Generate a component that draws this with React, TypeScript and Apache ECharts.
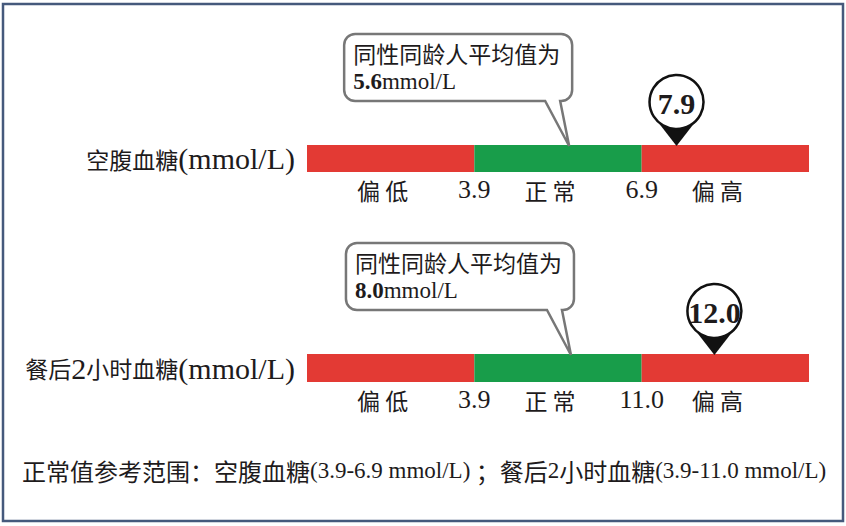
import React, { useEffect, useRef } from "react";
import * as echarts from "echarts";

// ---- data ----
const rowLabels = ["空腹血糖", "餐后2小时血糖"];
const unitText = "(mmol/L)";
const zoneNames = ["偏 低", "正 常", "偏 高"];
const zoneWidths = [1, 1, 1];
// display range of each zone (low start, normal start, high start, high end)
const fastingBounds = [0, 3.9, 6.9, 11.7];
const postBounds = [0, 3.9, 11.0, 13.3];
const fastingTicks = ["3.9", "6.9"];
const postTicks = ["3.9", "11.0"];
const yourValues = [7.9, 12.0];
const peerAverages = [5.6, 8.0];
const calloutTitle = "同性同龄人平均值为";
const footPrefix = "正常值参考范围：";

const boundsList = [fastingBounds, postBounds];
const ticksList = [fastingTicks, postTicks];

const RED = "#e33a34";
const GREEN = "#189d4a";
const zoneColors = [RED, GREEN, RED];
const INK = "#1e1b1c";
const CJK = '"Noto Sans CJK SC", "Noto Sans", sans-serif';
const SERIF = '"Liberation Serif", "Times New Roman", serif';

function toZone(v: number, b: number[]) {
  for (let i = 0; i < b.length - 1; i++) {
    if (v <= b[i + 1] || i === b.length - 2) {
      return i + (v - b[i]) / (b[i + 1] - b[i]);
    }
  }
  return 0;
}

function splitDigits(s: string, cjkKey: string, numKey: string) {
  return s
    .split(/(\d+)/)
    .filter((t) => t.length > 0)
    .map((t) => (/^\d+$/.test(t) ? `{${numKey}|${t}}` : `{${cjkKey}|${t}}`))
    .join("");
}

export default function App() {
  const ref = useRef<HTMLDivElement>(null);
  useEffect(() => {
    if (!ref.current) return;
    const chart = echarts.init(ref.current, null, { renderer: "svg" });

    const grids = [
      { left: 307, width: 502, top: 145, height: 27 },
      { left: 307, width: 502, top: 354, height: 28 },
    ];

    const xAxes = grids.map((_, gi) => ({
      gridIndex: gi,
      type: "value",
      min: 0,
      max: 3,
      interval: 0.5,
      axisLine: { show: false },
      axisTick: { show: false },
      splitLine: { show: false },
      axisLabel: {
        margin: 4,
        formatter: (v: number) => {
          const k = Math.round(v * 2);
          if (k === 0 || k === 6) return "";
          if (k % 2 === 1) return `{z|${zoneNames[(k - 1) / 2]}}`;
          return `{n|${ticksList[gi][k / 2 - 1]}}`;
        },
        rich: {
          z: {
            fontFamily: CJK,
            fontSize: 23,
            color: INK,
            lineHeight: 27,
            padding: [0, 16, 0, 0],
          },
          n: { fontFamily: SERIF, fontSize: 26, color: INK, lineHeight: 27 },
        },
      },
    }));

    const yAxes = grids.map((_, gi) => ({
      gridIndex: gi,
      type: "category",
      data: [rowLabels[gi]],
      axisLine: { show: false },
      axisTick: { show: false },
      axisLabel: {
        margin: 12,
        formatter: (v: string) => splitDigits(v, "c", "d") + `{u|${unitText}}`,
        rich: {
          c: { fontFamily: CJK, fontSize: 23, color: INK, lineHeight: 32 },
          d: { fontFamily: SERIF, fontSize: 30, color: INK, lineHeight: 32 },
          u: { fontFamily: SERIF, fontSize: 30, color: INK, lineHeight: 32 },
        },
      },
    }));

    const series: any[] = [];
    grids.forEach((_, gi) => {
      zoneWidths.forEach((w, zi) => {
        series.push({
          type: "bar",
          xAxisIndex: gi,
          yAxisIndex: gi,
          stack: "zones" + gi,
          data: [w],
          barWidth: "100%",
          itemStyle: { color: zoneColors[zi] },
          silent: true,
        });
      });

      // callout: peer average
      series.push({
        type: "custom",
        xAxisIndex: gi,
        yAxisIndex: gi,
        silent: true,
        z: 5,
        data: [[toZone(peerAverages[gi], boundsList[gi]), 0]],
        renderItem: (params: any, api: any) => {
          const p = api.coord([api.value(0), 0]);
          const h = api.size([0, 1])[1];
          const tx = p[0];
          const ty = p[1] - h / 2 + 1;
          const right = tx + 3;
          const left = right - 228;
          const bottom = ty - 45;
          const top = bottom - 67;
          const r = 11;
          const d =
            `M ${left + r} ${top} L ${right - r} ${top} ` +
            `A ${r} ${r} 0 0 1 ${right} ${top + r} L ${right} ${bottom - r} ` +
            `A ${r} ${r} 0 0 1 ${right - r} ${bottom} L ${right - 12} ${bottom} ` +
            `L ${tx} ${ty} L ${right - 27} ${bottom} L ${left + r} ${bottom} ` +
            `A ${r} ${r} 0 0 1 ${left} ${bottom - r} L ${left} ${top + r} ` +
            `A ${r} ${r} 0 0 1 ${left + r} ${top} Z`;
          return {
            type: "group",
            children: [
              {
                type: "path",
                shape: { pathData: d },
                style: { fill: "#ffffff", stroke: "#777777", lineWidth: 2.5 },
              },
              {
                type: "text",
                x: left + 9,
                y: top + 19,
                style: {
                  text: calloutTitle,
                  fontFamily: CJK,
                  fontSize: 23,
                  fill: INK,
                  align: "left",
                  verticalAlign: "middle",
                },
              },
              {
                type: "text",
                x: left + 9,
                y: top + 47,
                style: {
                  text: `{b|${peerAverages[gi].toFixed(1)}}{r|mmol/L}`,
                  align: "left",
                  verticalAlign: "middle",
                  rich: {
                    b: { fontFamily: SERIF, fontSize: 23, fontWeight: "bold", fill: INK },
                    r: { fontFamily: SERIF, fontSize: 23, fill: INK },
                  },
                },
              },
            ],
          };
        },
      });

      // pin: your value
      series.push({
        type: "custom",
        xAxisIndex: gi,
        yAxisIndex: gi,
        silent: true,
        z: 6,
        data: [[toZone(yourValues[gi], boundsList[gi]), 0]],
        renderItem: (params: any, api: any) => {
          const p = api.coord([api.value(0), 0]);
          const h = api.size([0, 1])[1];
          const tx = p[0];
          const ty = p[1] - h / 2 + 1;
          const R = 27;
          const dist = 44;
          const cy = ty - dist;
          const c = R / dist;
          const s = Math.sqrt(1 - c * c);
          return {
            type: "group",
            children: [
              {
                type: "polygon",
                shape: {
                  points: [
                    [tx, ty],
                    [tx + R * s, cy + R * c],
                    [tx - R * s, cy + R * c],
                  ],
                },
                style: { fill: "#111111" },
              },
              {
                type: "circle",
                shape: { cx: tx, cy: cy, r: R },
                style: { fill: "#ffffff", stroke: "#111111", lineWidth: 2.5 },
              },
              {
                type: "text",
                x: tx,
                y: cy + 1,
                style: {
                  text: yourValues[gi].toFixed(1),
                  fontFamily: SERIF,
                  fontSize: 30,
                  fontWeight: "bold",
                  fill: INK,
                  align: "center",
                  verticalAlign: "middle",
                },
              },
            ],
          };
        },
      });
    });

    const footParts =
      `{c|${footPrefix}}` +
      rowLabels
        .map(
          (lab, i) =>
            splitDigits(lab, "c", "l") +
            `{l|(${ticksList[i][0]}-${ticksList[i][1]} mmol/L)}`
        )
        .join("{c| ；}");

    chart.setOption({
      animation: false,
      backgroundColor: "#ffffff",
      grid: grids,
      xAxis: xAxes,
      yAxis: yAxes,
      series,
      graphic: [
        {
          type: "rect",
          shape: { x: 3, y: 4, width: 840, height: 517 },
          style: { fill: "none", stroke: "#45597c", lineWidth: 2.5 },
          silent: true,
        },
        {
          type: "text",
          x: 22,
          y: 470,
          style: {
            text: footParts,
            align: "left",
            verticalAlign: "middle",
            rich: {
              c: { fontFamily: CJK, fontSize: 24, fill: INK },
              l: { fontFamily: SERIF, fontSize: 23, fill: INK },
            },
          },
          silent: true,
        },
      ],
    });

    return () => chart.dispose();
  }, []);

  return (
    <div
      ref={ref}
      style={{ position: "fixed", left: 0, top: 0, width: 846, height: 526, background: "#fff" }}
    />
  );
}
